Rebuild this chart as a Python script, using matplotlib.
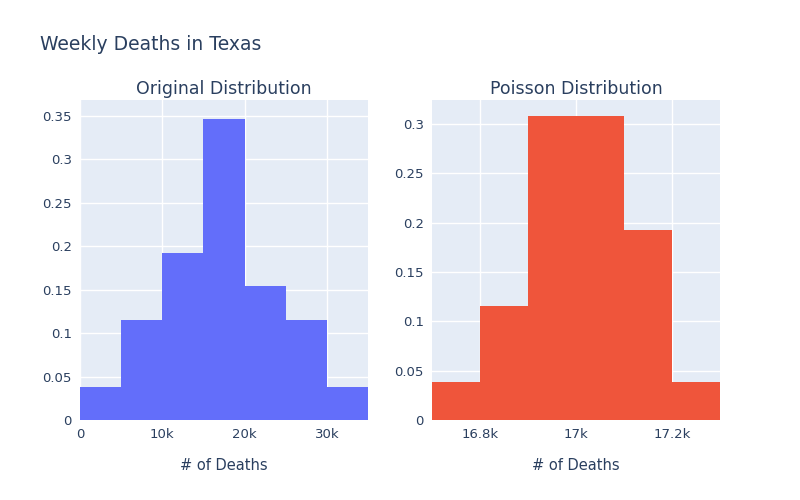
import matplotlib.pyplot as plt
from matplotlib.ticker import FuncFormatter

# Original distribution: bin edges and probability heights
orig_edges = [0, 5000, 10000, 15000, 20000, 25000, 30000, 35000]
orig_probs = [0.0385, 0.1154, 0.1923, 0.3462, 0.1538, 0.1154, 0.0385]

# Poisson distribution
pois_edges = [16700, 16800, 16900, 17000, 17100, 17200, 17300]
pois_probs = [0.0385, 0.1154, 0.3077, 0.3077, 0.1923, 0.0385]

BG = "#E5ECF6"
TXT = "#2a3f5f"


def kfmt(v, _):
    if v == 0:
        return "0"
    s = f"{v / 1000:g}k"
    return s


def style(ax):
    ax.set_facecolor(BG)
    for s in ax.spines.values():
        s.set_visible(False)
    ax.grid(True, color="white", linewidth=1)
    ax.set_axisbelow(True)
    ax.tick_params(length=0, labelsize=9.5, colors=TXT, pad=6)
    ax.xaxis.set_major_formatter(FuncFormatter(kfmt))
    ax.yaxis.set_major_formatter(FuncFormatter(lambda v, _: f"{v:g}"))


fig = plt.figure(figsize=(8, 5), dpi=100)
ax1 = fig.add_axes([0.10, 0.16, 0.36, 0.64])
ax2 = fig.add_axes([0.54, 0.16, 0.36, 0.64])

ax1.bar(orig_edges[:-1], orig_probs, width=[b - a for a, b in zip(orig_edges[:-1], orig_edges[1:])],
        align="edge", color="#636EFA", linewidth=0)
ax1.set_xlim(orig_edges[0], orig_edges[-1])
ax1.set_ylim(0, 0.3684)
ax1.set_xticks([0, 10000, 20000, 30000])
ax1.set_yticks([0, 0.05, 0.1, 0.15, 0.2, 0.25, 0.3, 0.35])

ax2.bar(pois_edges[:-1], pois_probs, width=[b - a for a, b in zip(pois_edges[:-1], pois_edges[1:])],
        align="edge", color="#EF553B", linewidth=0)
ax2.set_xlim(pois_edges[0], pois_edges[-1])
ax2.set_ylim(0, 0.3243)
ax2.set_xticks([16800, 17000, 17200])
ax2.set_yticks([0, 0.05, 0.1, 0.15, 0.2, 0.25, 0.3])

for ax, t in ((ax1, "Original Distribution"), (ax2, "Poisson Distribution")):
    style(ax)
    ax.set_title(t, fontsize=12.5, color=TXT, pad=4)
    ax.set_xlabel("# of Deaths", fontsize=10.5, color=TXT, labelpad=12)

fig.text(0.05, 0.91, "Weekly Deaths in Texas", fontsize=13.5, color=TXT, va="center")
fig.savefig("out.png", dpi=100)
